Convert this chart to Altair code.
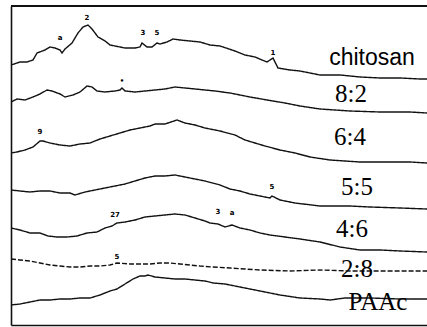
import altair as alt
import pandas as pd

# 2-theta (deg) and stacked intensity (a.u.) for each pattern
chitosan_x = [5.0, 5.9, 6.6, 7.2, 7.6, 8.4, 8.9, 9.4, 9.9, 10.1, 10.4, 11.1, 11.7, 12.2, 12.7, 13.1, 13.7, 14.4, 14.9, 15.4, 16.4, 17.4, 17.9, 18.1, 18.6, 19.1, 19.6, 19.9, 20.6, 21.2, 21.9, 22.9, 23.9, 24.9, 25.9, 27.4, 28.4, 29.4, 30.1, 30.6, 31.2, 31.7, 32.9, 33.9, 34.9, 35.9, 37.9, 39.9, 41.9, 43.9, 45.9, 46.6]
chitosan_y = [260, 263, 263, 265, 272, 275, 278, 277, 275, 272, 276, 282, 292, 298, 300, 296, 288, 284, 280, 279, 277, 277, 278, 282, 278, 278, 282, 281, 283, 286, 285, 284, 283, 280, 279, 274, 270, 268, 265, 263, 267, 257, 255, 254, 252, 250, 250, 248, 247, 247, 246, 246]

r82_x = [5.0, 5.6, 6.4, 7.2, 7.9, 8.6, 9.1, 9.9, 10.4, 11.2, 11.9, 12.6, 13.1, 13.6, 14.4, 15.4, 15.9, 16.1, 16.4, 17.4, 18.4, 19.4, 20.4, 21.4, 22.4, 23.4, 24.4, 25.4, 26.9, 28.9, 30.6, 32.4, 33.9, 35.9, 38.9, 41.9, 44.9, 46.6]
r82_y = [223, 226, 225, 228, 231, 235, 234, 231, 228, 230, 233, 239, 238, 234, 233, 234, 235, 237, 234, 233, 234, 235, 236, 238, 237, 236, 235, 234, 232, 228, 225, 222, 219, 216, 214, 213, 213, 212]

r64_x = [5.0, 5.6, 6.4, 7.2, 7.9, 8.2, 8.9, 9.9, 10.9, 11.9, 12.9, 13.9, 14.9, 15.9, 16.9, 17.9, 18.9, 19.4, 20.4, 21.6, 22.4, 23.4, 24.4, 25.9, 27.4, 28.4, 29.4, 30.4, 31.9, 33.4, 34.9, 36.9, 39.9, 42.9, 44.9, 46.6]
r64_y = [172, 173, 175, 178, 184, 184, 182, 180, 179, 181, 182, 186, 189, 192, 195, 197, 199, 201, 201, 205, 202, 200, 197, 194, 190, 185, 182, 179, 175, 172, 168, 165, 163, 163, 163, 162]

r55_x = [5.0, 5.9, 6.9, 7.9, 8.9, 9.9, 10.9, 11.4, 12.4, 13.4, 14.4, 15.4, 16.4, 17.4, 18.4, 19.4, 20.4, 21.4, 22.4, 23.4, 24.4, 25.9, 26.9, 27.9, 28.9, 29.9, 30.9, 31.1, 31.9, 33.4, 35.9, 38.9, 40.9, 43.9, 46.6]
r55_y = [135, 134, 133, 134, 134, 132, 132, 130, 133, 135, 137, 139, 141, 144, 147, 149, 149, 150, 148, 146, 144, 140, 136, 134, 131, 129, 127, 129, 125, 122, 119, 119, 118, 117, 116]

r46_x = [5.0, 5.9, 6.9, 7.9, 8.7, 9.6, 10.6, 11.6, 12.6, 13.6, 14.4, 15.1, 15.6, 16.4, 17.4, 18.4, 19.4, 20.4, 21.4, 22.4, 23.4, 24.4, 24.9, 25.7, 26.4, 27.1, 27.9, 28.9, 29.9, 30.9, 32.4, 33.9, 35.9, 37.9, 39.9, 41.9, 43.9, 46.6]
r46_y = [97, 95, 92, 92, 89, 88, 88, 89, 92, 93, 97, 99, 102, 103, 105, 108, 109, 110, 111, 110, 107, 104, 102, 101, 98, 100, 97, 95, 92, 90, 88, 86, 83, 78, 75, 75, 74, 73]

r28_x = [5.0, 5.9, 6.9, 7.9, 8.9, 9.9, 10.9, 11.9, 12.9, 13.9, 14.9, 15.6, 16.9, 17.9, 18.9, 19.9, 20.9, 21.9, 22.9, 23.9, 25.2, 26.9, 29.9, 32.9, 35.9, 38.9, 41.9, 46.6]
r28_y = [66, 65, 64, 62, 60, 59, 58, 58, 59, 59, 60, 62, 61, 61, 61, 62, 62, 61, 60, 59, 58, 57, 55, 54, 55, 54, 54, 54]

paac_x = [5.0, 5.9, 6.9, 7.9, 8.9, 9.9, 10.9, 11.9, 12.9, 13.9, 14.9, 15.6, 16.4, 17.2, 17.9, 18.4, 18.7, 19.4, 20.4, 21.4, 22.4, 23.4, 24.4, 25.2, 26.4, 27.9, 29.9, 31.9, 33.9, 35.9, 36.9, 38.4, 40.9, 43.9, 46.6]
paac_y = [20, 21, 23, 25, 25, 26, 26, 27, 27, 30, 34, 36, 41, 46, 49, 49, 50, 48, 47, 46, 46, 45, 44, 42, 41, 38, 34, 30, 27, 26, 25, 27, 27, 26, 26]

series_names = ["chitosan", "8:2", "6:4", "5:5", "4:6", "2:8", "PAAc"]
series_x = [chitosan_x, r82_x, r64_x, r55_x, r46_x, r28_x, paac_x]
series_y = [chitosan_y, r82_y, r64_y, r55_y, r46_y, r28_y, paac_y]
series_dash = ["solid", "solid", "solid", "solid", "solid", "dash", "solid"]

label_x = [41.1, 39.0, 38.9, 39.6, 39.1, 39.6, 41.7]
label_y = [260, 223, 180, 130, 88, 48, 15]
label_font = ["Liberation Sans", "Liberation Serif", "Liberation Serif", "Liberation Serif", "Liberation Serif", "Liberation Serif", "Liberation Serif"]

peak_x = [9.9, 12.6, 18.2, 19.6, 31.2, 16.1, 7.9, 31.1, 15.4, 25.7, 27.1, 15.6]
peak_y = [287, 307, 292, 292, 272, 244, 193, 138, 110, 113, 112, 68]
peak_txt = ["a", "2", "3", "5", "1", "•", "9", "5", "27", "3", "a", "5"]

rows = []
for name, xs_, ys_, d in zip(series_names, series_x, series_y, series_dash):
    for i, (a, b) in enumerate(zip(xs_, ys_)):
        rows.append({"series": name, "theta": a, "intensity": b, "i": i, "dash": d})
df = pd.DataFrame(rows)

labels = pd.DataFrame({"name": series_names, "x": label_x, "y": label_y, "font": label_font})
peaks = pd.DataFrame({"x": peak_x, "y": peak_y, "t": peak_txt})

xs = alt.Scale(domain=[5, 46.6], nice=False, zero=False)
ys = alt.Scale(domain=[0, 319], nice=False, zero=False)
xax = alt.Axis(labels=False, ticks=False, grid=False, title=None, domainColor="#111", domainWidth=1.6)
yax = alt.Axis(labels=False, ticks=False, grid=False, title=None, domainColor="#111", domainWidth=1.6)

lines = alt.Chart(df).mark_line(color="#111", strokeWidth=1.4, clip=True).encode(
    x=alt.X("theta:Q", scale=xs, axis=xax),
    y=alt.Y("intensity:Q", scale=ys, axis=yax),
    detail="series:N",
    order="i:Q",
    strokeDash=alt.StrokeDash("dash:N", scale=alt.Scale(domain=["solid", "dash"], range=[[1, 0], [5, 2]]), legend=None),
)

texts = []
for fnt, sz in [("Liberation Sans", 23), ("Liberation Serif", 25)]:
    texts.append(
        alt.Chart(labels[labels["font"] == fnt]).mark_text(
            font=fnt, fontSize=sz, color="#000", baseline="alphabetic", align="center"
        ).encode(x=alt.X("x:Q", scale=xs), y=alt.Y("y:Q", scale=ys), text="name:N")
    )

peak_marks = alt.Chart(peaks).mark_text(fontSize=7, fontWeight="bold", fill="#000", baseline="middle", font="DejaVu Sans").encode(
    x=alt.X("x:Q", scale=xs), y=alt.Y("y:Q", scale=ys), text="t:N"
)

top = alt.Chart(labels).mark_rule(color="#111", strokeWidth=2).encode(
    y=alt.value(0), x=alt.value(0), x2=alt.value(416)
)

chart = alt.layer(lines, *texts, peak_marks, top).properties(
    width=416, height=319,
    autosize=alt.AutoSizeParams(type="none"),
    padding={"left": 11, "top": 6, "right": 0, "bottom": 2},
).configure_view(stroke=None).configure(background="white")

chart.save("out.html", embed_options={"renderer": "svg", "actions": False})
